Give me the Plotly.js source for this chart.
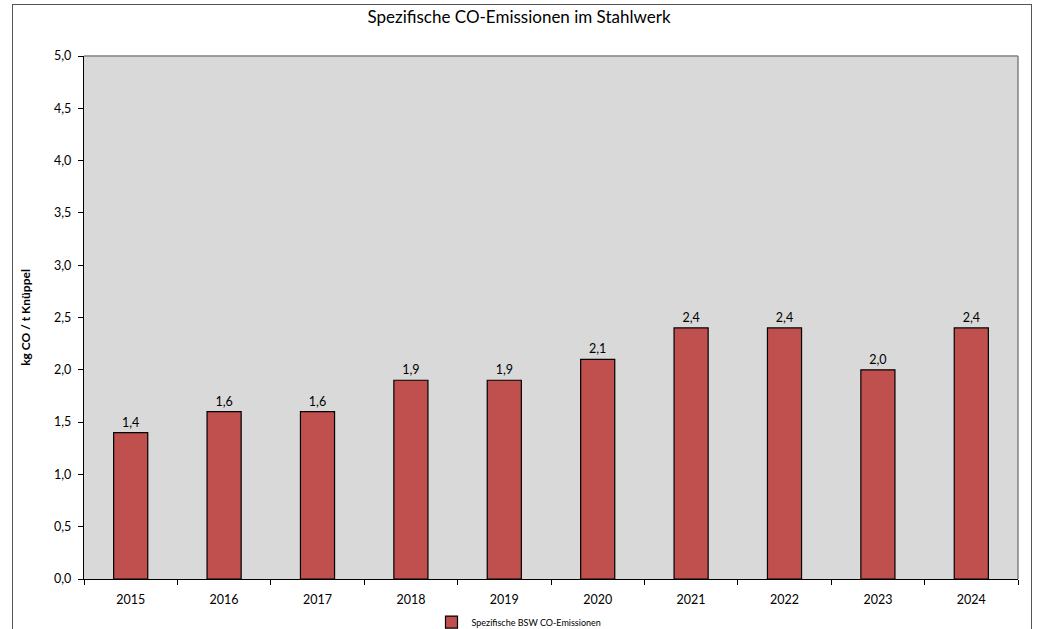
<!DOCTYPE html>
<html><head><meta charset="utf-8">
<script src="https://cdn.plot.ly/plotly-3.0.1.min.js"></script>
<style>
html,body{margin:0;padding:0;background:#fff;}
#wrap{position:relative;width:1038px;height:629px;overflow:hidden;}
#chart{width:1038px;height:629px;}
#frame{position:absolute;left:12px;top:4px;width:1020px;height:640px;border:1.5px solid #555;pointer-events:none;box-sizing:border-box;}
</style></head>
<body>
<div id="wrap"><div id="chart"></div><div id="frame"></div></div>
<script>
const years = ['2015','2016','2017','2018','2019','2020','2021','2022','2023','2024'];
const emissions = [1.4,1.6,1.6,1.9,1.9,2.1,2.4,2.4,2.0,2.4];
const seriesName = 'Spezifische BSW CO-Emissionen';
const yTickVals = [0,0.5,1,1.5,2,2.5,3,3.5,4,4.5,5];

const fontFam = 'Lato, "Open Sans", sans-serif';
const trace = {
  type:'bar', x: years, y: emissions, name: seriesName,
  marker:{color:'#c0504d', line:{color:'#000', width:1.2}},
  text: emissions.map(v => v.toFixed(1).replace('.', ',')),
  textposition:'outside', cliponaxis:false,
  textfont:{family:fontFam, size:12.5, color:'#000'},
  hoverinfo:'none'
};
const layout = {
  width:1038, height:629,
  margin:{l:84, r:20, t:56, b:50, autoexpand:false},
  paper_bgcolor:'#fff', plot_bgcolor:'#d9d9d9',
  separators:',.',
  bargap:0.635,
  showlegend:true,
  legend:{orientation:'h', xref:'container', yref:'container', x:0.5, xanchor:'center', y:0.011, yanchor:'middle',
          font:{family:fontFam, size:9, color:'#000'}, itemwidth:30, tracegroupgap:0, bgcolor:'rgba(0,0,0,0)'},
  title:{text:'Spezifische CO-Emissionen im Stahlwerk', x:0.5, xanchor:'center', y:0.982, yanchor:'top',
         font:{family:fontFam, size:17, color:'#000'}},
  xaxis:{type:'category', tickson:'boundaries', ticks:'outside', ticklen:5, tickcolor:'#000',
         showline:true, linecolor:'#000', linewidth:1.2, showgrid:false, mirror:false, automargin:false,
         ticklabelstandoff:9,
         tickfont:{family:fontFam, size:12.5, color:'#000'}},
  yaxis:{range:[0,5], tickvals:yTickVals, tickformat:'.1f', ticks:'outside', ticklen:5, tickcolor:'#000',
         showline:true, linecolor:'#000', linewidth:1.2, showgrid:false, zeroline:false, automargin:false,
         ticklabelstandoff:4,
         tickfont:{family:fontFam, size:12.5, color:'#000'},
         title:{text:'<b>kg CO / t Knüppel</b>', standoff:20, font:{family:fontFam, size:12, color:'#000'}}},
  shapes:[
    {type:'line', xref:'paper', yref:'paper', x0:0, x1:1, y0:1, y1:1, line:{color:'#808080', width:1.5}},
    {type:'line', xref:'paper', yref:'paper', x0:1, x1:1, y0:0, y1:1, line:{color:'#808080', width:1.5}}
  ]
};
Plotly.newPlot('chart', [trace], layout, {displayModeBar:false, staticPlot:true});
</script>
</body></html>
